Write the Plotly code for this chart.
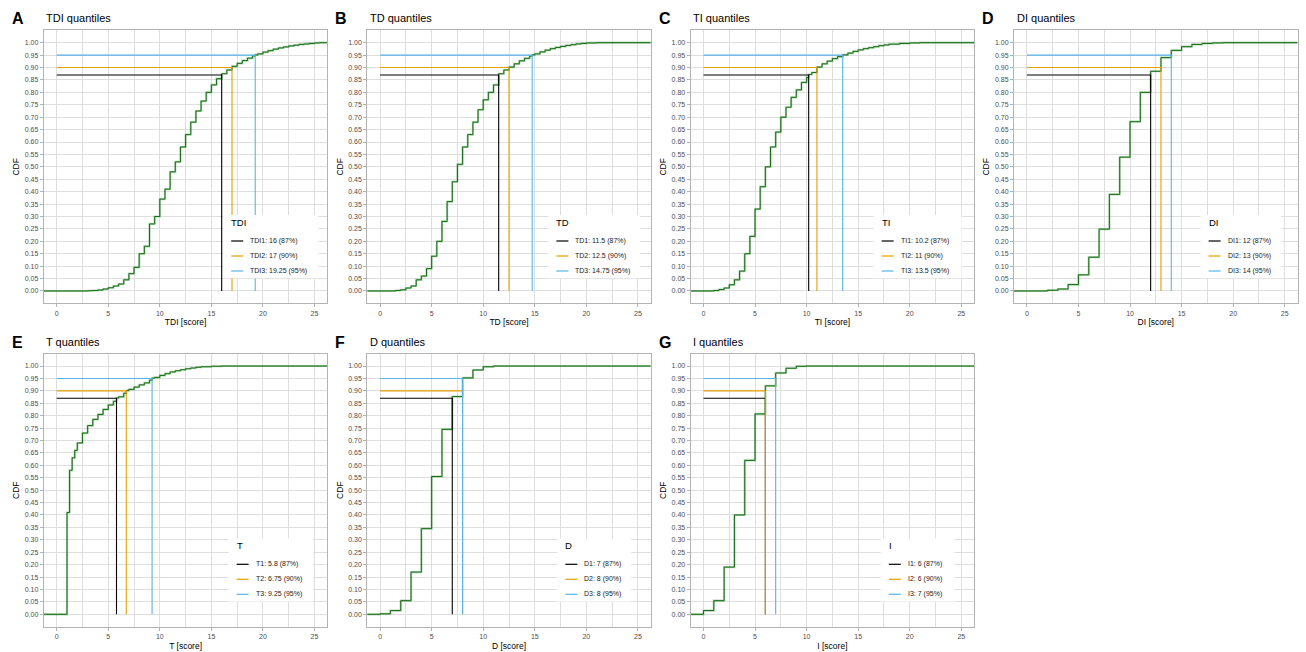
import plotly.graph_objects as go

W, H = 1306, 652

# quantile levels and their line colours
probs = [0.87, 0.90, 0.95]
q_colors = ["#000000", "#E69F00", "#56B4E9"]

# ---- empirical CDF step values per score ----
tdi_x = [3, 3.5, 4, 4.5, 5, 5.5, 6, 6.5, 7, 7.5, 8, 8.5, 9, 9.5, 10, 10.5, 11, 11.5, 12, 12.5,
         13, 13.5, 14, 14.5, 15, 15.5, 16, 16.5, 17, 17.5, 18, 18.5, 19, 19.25, 19.5, 20, 20.5,
         21, 21.5, 22, 22.5, 23, 23.5, 24, 24.5, 25, 25.5]
tdi_cdf = [0.001, 0.002, 0.004, 0.008, 0.013, 0.02, 0.028, 0.045, 0.07, 0.095, 0.15, 0.18, 0.27,
           0.30, 0.37, 0.41, 0.48, 0.52, 0.58, 0.63, 0.68, 0.725, 0.765, 0.80, 0.83, 0.855, 0.875,
           0.89, 0.905, 0.917, 0.928, 0.938, 0.947, 0.951, 0.955, 0.962, 0.968, 0.974, 0.979,
           0.983, 0.987, 0.99, 0.993, 0.995, 0.997, 0.999, 1.0]
tdi_q = [16, 17, 19.25]

td_x = [1.5, 2, 2.5, 3, 3.5, 4, 4.5, 5, 5.5, 6, 6.5, 7, 7.5, 8, 8.5, 9, 9.5, 10, 10.5, 11, 11.5,
        12, 12.5, 13, 13.5, 14, 14.5, 14.75, 15, 15.5, 16, 16.5, 17, 17.5, 18, 18.5, 19, 19.5,
        20, 21]
td_cdf = [0.002, 0.005, 0.012, 0.02, 0.045, 0.06, 0.09, 0.14, 0.2, 0.28, 0.36, 0.44, 0.51, 0.58,
          0.63, 0.68, 0.73, 0.77, 0.8, 0.83, 0.875, 0.89, 0.902, 0.915, 0.927, 0.937, 0.946,
          0.951, 0.955, 0.963, 0.97, 0.976, 0.981, 0.985, 0.989, 0.992, 0.995, 0.997, 0.999, 1.0]
td_q = [11.5, 12.5, 14.75]

ti_x = [1, 1.5, 2, 2.5, 3, 3.5, 4, 4.5, 5, 5.5, 6, 6.5, 7, 7.5, 8, 8.5, 9, 9.5, 10, 10.2, 10.5,
        11, 11.5, 12, 12.5, 13, 13.5, 14, 14.5, 15, 15.5, 16, 16.5, 17, 17.5, 18, 19, 20, 21]
ti_cdf = [0.002, 0.006, 0.012, 0.025, 0.045, 0.08, 0.15, 0.22, 0.33, 0.42, 0.5, 0.58, 0.64, 0.7,
          0.74, 0.78, 0.81, 0.84, 0.86, 0.872, 0.88, 0.902, 0.915, 0.926, 0.936, 0.944, 0.951,
          0.958, 0.965, 0.971, 0.976, 0.98, 0.984, 0.988, 0.991, 0.994, 0.997, 0.999, 1.0]
ti_q = [10.2, 11, 13.5]

di_x = [2, 3, 4, 5, 6, 7, 8, 9, 10, 11, 12, 13, 14, 15, 16, 17, 18, 19]
di_cdf = [0.003, 0.008, 0.026, 0.065, 0.136, 0.249, 0.389, 0.539, 0.682, 0.80, 0.885, 0.94, 0.969,
          0.984, 0.993, 0.997, 0.999, 1.0]
di_q = [12, 13, 14]

t_x = [1, 1.25, 1.5, 1.75, 2, 2.5, 3, 3.5, 4, 4.5, 5, 5.5, 5.8, 6, 6.5, 6.75, 7, 7.5, 8, 8.5, 9,
       9.25, 9.5, 10, 10.5, 11, 11.5, 12, 12.5, 13, 13.5, 14, 15, 16]
t_cdf = [0.41, 0.58, 0.63, 0.66, 0.69, 0.73, 0.76, 0.785, 0.805, 0.825, 0.843, 0.858, 0.871, 0.876,
         0.89, 0.901, 0.906, 0.915, 0.924, 0.932, 0.943, 0.951, 0.954, 0.962, 0.969, 0.976, 0.981,
         0.985, 0.989, 0.992, 0.995, 0.997, 0.999, 1.0]
t_q = [5.8, 6.75, 9.25]

d_x = [0, 1, 2, 3, 4, 5, 6, 7, 8, 9, 10, 11]
d_cdf = [0.002, 0.015, 0.055, 0.17, 0.345, 0.555, 0.745, 0.877, 0.952, 0.984, 0.997, 1.0]
d_q = [7, 8, 8]

i_x = [0, 1, 2, 3, 4, 5, 6, 7, 8, 9, 10]
i_cdf = [0.015, 0.055, 0.19, 0.40, 0.62, 0.807, 0.92, 0.972, 0.991, 0.999, 1.0]
i_q = [6, 6, 7]

panels = [
    ("A", "TDI", tdi_x, tdi_cdf, tdi_q, 0, 0),
    ("B", "TD", td_x, td_cdf, td_q, 0, 1),
    ("C", "TI", ti_x, ti_cdf, ti_q, 0, 2),
    ("D", "DI", di_x, di_cdf, di_q, 0, 3),
    ("E", "T", t_x, t_cdf, t_q, 1, 0),
    ("F", "D", d_x, d_cdf, d_q, 1, 1),
    ("G", "I", i_x, i_cdf, i_q, 1, 2),
]

X_RANGE = [-1.25, 26.25]
Y_RANGE = [-0.05, 1.05]

# panel geometry in pixels
ROW_TOP = [30.3, 353.6]
PANEL_H = 273.1
COL_LEFT0 = 43.8
COL_STEP = 323.4
PANEL_W = 283.6

GRID = "#DEDEDE"
BORDER = "#B3B3B3"
TICKTXT = "#4D4D4D"
FONT = "Liberation Sans, Arial, sans-serif"


def px(x):
    return x / W


def py(y):
    return 1 - y / H


def fmt(v):
    return f"{v:g}"


fig = go.Figure()
shapes = []
annotations = []
layout_axes = {}

for k, (letter, name, xs, cdf, qs, row, col) in enumerate(panels):
    n = k + 1
    xa = "x" if n == 1 else f"x{n}"
    ya = "y" if n == 1 else f"y{n}"
    left = COL_LEFT0 + col * COL_STEP
    top = ROW_TOP[row]
    right = left + PANEL_W
    bottom = top + PANEL_H

    # ECDF drawn as a step function padded to the panel edges
    sx = [X_RANGE[0]] + list(xs) + [X_RANGE[1]]
    sy = [0.0] + list(cdf) + [1.0]
    fig.add_trace(go.Scatter(x=sx, y=sy, mode="lines", line_shape="hv",
                             line=dict(color="rgba(60,145,60,0.38)", width=2.2),
                             xaxis=xa, yaxis=ya, showlegend=False, hoverinfo="skip"))
    fig.add_trace(go.Scatter(x=sx, y=sy, mode="lines", line_shape="hv",
                             line=dict(color="#146E14", width=1.0),
                             xaxis=xa, yaxis=ya, showlegend=False, hoverinfo="skip"))

    # quantile guide lines
    for j, (qv, pv) in enumerate(zip(qs, probs)):
        fig.add_trace(go.Scatter(x=[0, qv, qv], y=[pv, pv, 0], mode="lines",
                                 line=dict(color=q_colors[j], width=1.1),
                                 xaxis=xa, yaxis=ya, showlegend=False, hoverinfo="skip"))

    axis_common = dict(showline=True, linecolor=BORDER, linewidth=1, mirror=True,
                       ticks="outside", ticklen=3, tickcolor=BORDER, tickwidth=1,
                       tickfont=dict(size=7, color=TICKTXT, family=FONT),
                       showgrid=True, gridcolor=GRID, gridwidth=0.8, zeroline=False,
                       fixedrange=True)
    layout_axes["xaxis" if n == 1 else f"xaxis{n}"] = dict(
        axis_common, domain=[px(left), px(right)], range=X_RANGE, anchor=ya,
        tickvals=[0, 5, 10, 15, 20, 25],
        minor=dict(tickvals=[2.5, 7.5, 12.5, 17.5, 22.5], showgrid=True,
                   gridcolor=GRID, gridwidth=0.6, ticks=""),
        title=dict(text=f"{name} [score]", font=dict(size=8.5, color="#000000", family=FONT),
                   standoff=3))
    yt = [i / 20 for i in range(21)]
    layout_axes["yaxis" if n == 1 else f"yaxis{n}"] = dict(
        axis_common, domain=[py(bottom), py(top)], range=Y_RANGE, anchor=xa,
        tickvals=yt, ticktext=[f"{v:.2f}" for v in yt],
        title=dict(text="CDF", font=dict(size=8.5, color="#000000", family=FONT), standoff=3))

    # panel letter and title
    annotations.append(dict(text=f"<b>{letter}</b>", x=px(left - 34), y=py(top - 11.5),
                            xref="paper", yref="paper", xanchor="left", yanchor="middle",
                            showarrow=False, font=dict(size=16, color="#000000", family=FONT)))
    annotations.append(dict(text=f"{name} quantiles", x=px(left + 0.5), y=py(top - 12),
                            xref="paper", yref="paper", xanchor="left", yanchor="middle",
                            showarrow=False, font=dict(size=11, color="#000000", family=FONT)))

    # legend box inside the panel
    labels = [f"{name}{j + 1}: {fmt(qv)} ({int(round(pv * 100))}%)" for j, (qv, pv) in enumerate(zip(qs, probs))]
    tw = max(len(s) for s in labels) * 3.6
    bw = 26 + tw + 8
    bl = left + 227 - bw / 2
    shapes.append(dict(type="rect", xref="paper", yref="paper", layer="above",
                       x0=px(bl), x1=px(bl + bw), y0=py(top + 248), y1=py(top + 184.7),
                       fillcolor="#FFFFFF", line=dict(width=0)))
    annotations.append(dict(text=name, x=px(bl + 6), y=py(top + 192), xref="paper", yref="paper",
                            xanchor="left", yanchor="middle", showarrow=False,
                            font=dict(size=9.5, color="#000000", family=FONT)))
    for j, lab in enumerate(labels):
        yy = top + 210.7 + 15 * j
        shapes.append(dict(type="line", xref="paper", yref="paper", layer="above",
                           x0=px(bl + 8), x1=px(bl + 20), y0=py(yy), y1=py(yy),
                           line=dict(color=q_colors[j], width=1.2)))
        annotations.append(dict(text=lab, x=px(bl + 25), y=py(yy), xref="paper", yref="paper",
                                xanchor="left", yanchor="middle", showarrow=False,
                                font=dict(size=7, color="#1A1A1A", family=FONT)))

fig.update_layout(
    width=W, height=H, margin=dict(l=0, r=0, t=0, b=0),
    paper_bgcolor="#FFFFFF", plot_bgcolor="#FFFFFF",
    font=dict(family=FONT), showlegend=False,
    shapes=shapes, annotations=annotations, **layout_axes)

fig.write_html("out.html")
